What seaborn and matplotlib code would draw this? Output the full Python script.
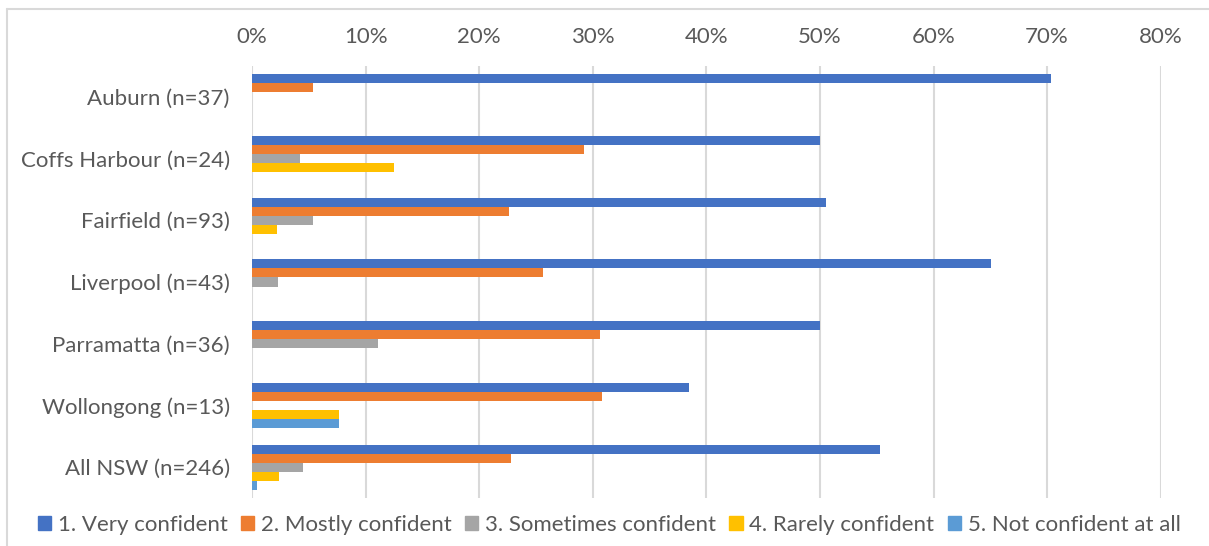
import matplotlib
matplotlib.use("Agg")
import matplotlib.pyplot as plt
import pandas as pd
import seaborn as sns
from matplotlib.lines import Line2D
from matplotlib.ticker import PercentFormatter

regions = [
    "Auburn (n=37)",
    "Coffs Harbour (n=24)",
    "Fairfield (n=93)",
    "Liverpool (n=43)",
    "Parramatta (n=36)",
    "Wollongong (n=13)",
    "All NSW (n=246)",
]
levels = [
    "1. Very confident",
    "2. Mostly confident",
    "3. Sometimes confident",
    "4. Rarely confident",
    "5. Not confident at all",
]
# shares per region, one list per confidence level
very_confident = [0.703, 0.500, 0.505, 0.651, 0.500, 0.385, 0.553]
mostly_confident = [0.054, 0.292, 0.226, 0.256, 0.306, 0.308, 0.228]
sometimes_confident = [0.000, 0.042, 0.054, 0.023, 0.111, 0.000, 0.045]
rarely_confident = [0.000, 0.125, 0.022, 0.000, 0.000, 0.077, 0.024]
not_confident = [0.000, 0.000, 0.000, 0.000, 0.000, 0.077, 0.004]
x_ticks = [0, 0.1, 0.2, 0.3, 0.4, 0.5, 0.6, 0.7, 0.8]

colors = ["#4472C4", "#ED7D31", "#A5A5A5", "#FFC000", "#5B9BD5"]

series = [very_confident, mostly_confident, sometimes_confident,
          rarely_confident, not_confident]
rows = []
for level, values in zip(levels, series):
    for region, v in zip(regions, values):
        rows.append({"Region": region, "Level": level, "Share": v})
df = pd.DataFrame(rows)

sns.set_theme(style="white")
plt.rcParams["font.family"] = ["Lato", "DejaVu Sans"]
text_color = "#595959"
fs = 16

fig = plt.figure(figsize=(12.09, 5.46), dpi=100)
ax = fig.add_axes([252 / 1209, 1 - 498 / 546, (1160.7 - 252) / 1209, 432 / 546])

sns.barplot(
    data=df, y="Region", x="Share", hue="Level", order=regions,
    hue_order=levels, palette=colors, orient="h", width=0.73,
    linewidth=0, saturation=1, ax=ax, legend=False,
)

ax.set_xlim(0, 0.8)
ax.set_ylim(6.5, -0.5)
ax.set_xticks(x_ticks)
ax.xaxis.set_major_formatter(PercentFormatter(1.0, decimals=0))
ax.xaxis.tick_top()
ax.tick_params(axis="both", length=0, labelsize=fs, colors=text_color)
ax.tick_params(axis="x", pad=14)
ax.tick_params(axis="y", pad=16)
ax.grid(axis="x", color="#D9D9D9", linewidth=1.5)
ax.set_axisbelow(True)
for s in ax.spines.values():
    s.set_visible(False)
ax.set_xlabel("")
ax.set_ylabel("")

handles = [plt.Rectangle((0, 0), 1, 1, color=c) for c in colors]
fig.legend(
    handles, levels, loc="center", bbox_to_anchor=(609 / 1209, 1 - 525 / 546),
    ncol=5, frameon=False, fontsize=fs, labelcolor=text_color,
    handlelength=0.6, handleheight=0.6, handletextpad=0.3, columnspacing=0.6,
)

# chart frame (top and left edges visible in the crop)
fig.add_artist(Line2D([7 / 1209, 7 / 1209], [0, 1 - 9 / 546], color="#D9D9D9",
                      linewidth=1.5, transform=fig.transFigure))
fig.add_artist(Line2D([7 / 1209, 1], [1 - 9 / 546, 1 - 9 / 546], color="#D9D9D9",
                      linewidth=1.5, transform=fig.transFigure))

fig.savefig("out.png", dpi=100)
